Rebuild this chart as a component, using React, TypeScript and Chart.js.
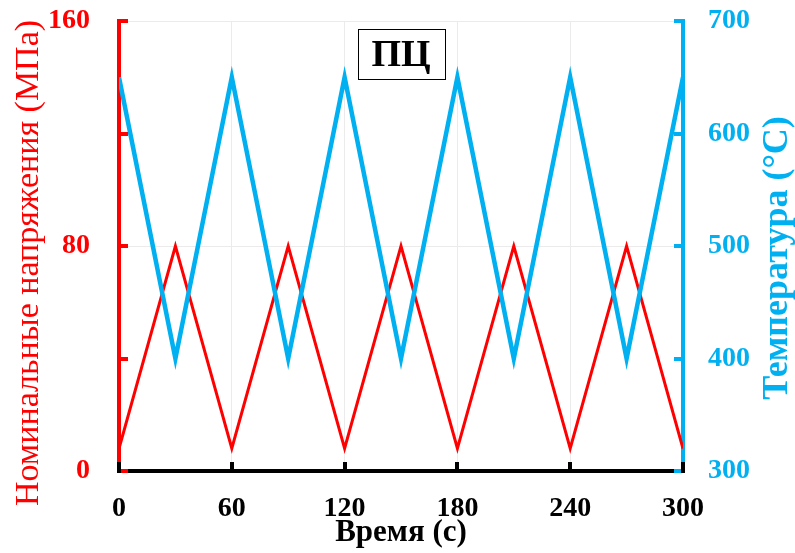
import React, { useEffect, useRef } from 'react';
import { Chart, registerables } from 'chart.js';

Chart.register(...registerables);

// ---- data ----
const timeValues = [0, 30, 60, 90, 120, 150, 180, 210, 240, 270, 300];
const stressValues = [8, 80, 8, 80, 8, 80, 8, 80, 8, 80, 8];
const temperatureValues = [650, 400, 650, 400, 650, 400, 650, 400, 650, 400, 650];

const xTicks = [0, 60, 120, 180, 240, 300];
const stressTicks = [0, 40, 80, 120, 160];
const stressLabelTicks = [0, 80, 160];
const tempTicks = [300, 400, 500, 600, 700];

const chartTitle = 'ПЦ';
const xTitle = 'Время (с)';
const yLeftTitle = 'Номинальные напряжения (МПа)';
const yRightTitle = 'Температура (°C)';

const RED = '#ff0000';
const BLUE = '#00b0f0';
const GRID = '#ebebeb';
const FONT = "'Liberation Serif', 'Times New Roman', serif";

const decorPlugin = {
  id: 'decor',
  afterDraw(chart: any) {
    const ctx = chart.ctx;
    const { left, right, top, bottom } = chart.chartArea;
    const sx = chart.scales.x;
    const sy = chart.scales.y;
    const sy2 = chart.scales.y2;
    const TL = 9;
    ctx.save();
    ctx.lineWidth = 4;
    ctx.lineCap = 'butt';
    // left ticks (inward)
    ctx.strokeStyle = RED;
    stressTicks.forEach((v) => {
      const py = Math.round(sy.getPixelForValue(v));
      ctx.beginPath();
      ctx.moveTo(left - 2, py);
      ctx.lineTo(left + TL, py);
      ctx.stroke();
    });
    // right ticks (inward)
    ctx.strokeStyle = BLUE;
    tempTicks.forEach((v) => {
      const py = Math.round(sy2.getPixelForValue(v));
      ctx.beginPath();
      ctx.moveTo(right + 2, py);
      ctx.lineTo(right - TL, py);
      ctx.stroke();
    });
    // bottom ticks (inward)
    ctx.strokeStyle = '#000';
    xTicks.forEach((v) => {
      const px = Math.round(sx.getPixelForValue(v));
      ctx.beginPath();
      ctx.moveTo(px, bottom + 2);
      ctx.lineTo(px, bottom - TL);
      ctx.stroke();
    });

    // axis titles
    const midY = (top + bottom) / 2;
    ctx.textAlign = 'center';
    ctx.textBaseline = 'middle';

    ctx.save();
    ctx.translate(left - 90, midY + 17);
    ctx.rotate(-Math.PI / 2);
    ctx.fillStyle = RED;
    ctx.font = `34px ${FONT}`;
    ctx.fillText(yLeftTitle, 0, 0);
    ctx.restore();

    ctx.save();
    ctx.translate(right + 95, midY + 12);
    ctx.rotate(-Math.PI / 2);
    ctx.fillStyle = BLUE;
    ctx.font = `bold 36px ${FONT}`;
    ctx.fillText(yRightTitle, 0, 0);
    ctx.restore();

    ctx.fillStyle = '#000';
    ctx.font = `bold 31px ${FONT}`;
    ctx.fillText(xTitle, (left + right) / 2, bottom + 62);

    // boxed title
    const cx = (left + right) / 2;
    const bw = 87;
    const bh = 50;
    const by = top + 8;
    ctx.fillStyle = '#fff';
    ctx.fillRect(cx - bw / 2, by, bw, bh);
    ctx.lineWidth = 1;
    ctx.strokeStyle = '#000';
    ctx.strokeRect(Math.round(cx - bw / 2) + 0.5, by + 0.5, bw, bh);
    ctx.fillStyle = '#000';
    ctx.font = `bold 38px ${FONT}`;
    ctx.fillText(chartTitle, cx, by + bh / 2 + 2);
    ctx.restore();
  },
};

export default function App() {
  const canvasRef = useRef<HTMLCanvasElement | null>(null);

  useEffect(() => {
    if (!canvasRef.current) return;
    const chart = new Chart(canvasRef.current, {
      type: 'line',
      data: {
        datasets: [
          {
            label: 'Температура',
            data: timeValues.map((t, i) => ({ x: t, y: temperatureValues[i] })),
            borderColor: BLUE,
            backgroundColor: BLUE,
            borderWidth: 4.5,
            pointRadius: 0,
            tension: 0,
            yAxisID: 'y2',
            order: 0,
          },
          {
            label: 'Напряжение',
            data: timeValues.map((t, i) => ({ x: t, y: stressValues[i] })),
            borderColor: RED,
            backgroundColor: RED,
            borderWidth: 3,
            pointRadius: 0,
            tension: 0,
            yAxisID: 'y',
            order: 1,
          },
        ],
      },
      options: {
        responsive: false,
        animation: false,
        devicePixelRatio: 1,
        layout: { padding: { top: 21, left: 0, right: 0, bottom: 0 } },
        plugins: {
          legend: { display: false },
          tooltip: { enabled: false },
          title: { display: false },
        },
        scales: {
          x: {
            type: 'linear',
            min: 0,
            max: 300,
            afterBuildTicks: (s: any) => {
              s.ticks = xTicks.map((v) => ({ value: v }));
            },
            afterFit: (s: any) => {
              s.height = 82;
              s.paddingLeft = 0;
              s.paddingRight = 0;
            },
            ticks: {
              color: '#000',
              font: { family: FONT, size: 28, weight: 'bold' },
              padding: 21,
              maxRotation: 0,
              callback: (v: any) => String(v),
            },
            grid: { color: GRID, lineWidth: 1, drawTicks: false },
            border: { color: '#000', width: 4 },
          },
          y: {
            type: 'linear',
            position: 'left',
            min: 0,
            max: 160,
            afterBuildTicks: (s: any) => {
              s.ticks = stressTicks.map((v) => ({ value: v }));
            },
            afterFit: (s: any) => {
              s.width = 119;
              s.paddingTop = 0;
              s.paddingBottom = 0;
            },
            ticks: {
              color: RED,
              font: { family: FONT, size: 28, weight: 'bold' },
              padding: 29,
              callback: (v: any) => (stressLabelTicks.includes(Number(v)) ? String(v) : ''),
            },
            grid: {
              drawTicks: false,
              lineWidth: 1,
              color: (c: any) =>
                c.tick && stressLabelTicks.includes(c.tick.value) ? GRID : 'rgba(0,0,0,0)',
            },
            border: { color: RED, width: 4 },
          },
          y2: {
            type: 'linear',
            position: 'right',
            min: 300,
            max: 700,
            afterBuildTicks: (s: any) => {
              s.ticks = tempTicks.map((v) => ({ value: v }));
            },
            afterFit: (s: any) => {
              s.width = 112;
              s.paddingTop = 0;
              s.paddingBottom = 0;
            },
            ticks: {
              color: BLUE,
              font: { family: FONT, size: 28, weight: 'bold' },
              padding: 25,
              callback: (v: any) => String(v),
            },
            grid: { display: false, drawTicks: false },
            border: { color: BLUE, width: 4 },
          },
        },
      },
      plugins: [decorPlugin],
    });
    return () => chart.destroy();
  }, []);

  return (
    <div style={{ position: 'fixed', left: 0, top: 0, width: 795, height: 553, background: '#fff' }}>
      <canvas ref={canvasRef} width={795} height={553} style={{ width: 795, height: 553, display: 'block' }} />
    </div>
  );
}
